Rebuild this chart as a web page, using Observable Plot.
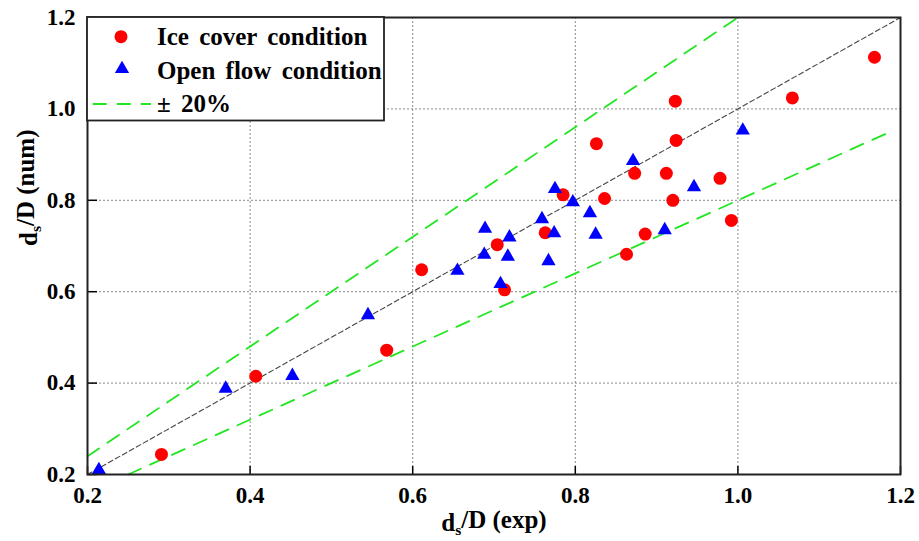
<!DOCTYPE html>
<html><head><meta charset="utf-8">
<script src="https://cdn.jsdelivr.net/npm/d3@7"></script>
<script src="https://cdn.jsdelivr.net/npm/@observablehq/plot@0.6"></script>
<style>body{margin:0;background:#fff}</style>
</head><body><div id="chart"></div>
<script>
// Ice cover condition (red circles)
const iceX = [0.291,0.407,0.568,0.611,0.704,0.713,0.763,0.785,0.826,0.836,0.863,0.886,0.873,0.912,0.920,0.978,0.923,0.924,0.992,1.067,1.168];
const iceY = [0.244,0.415,0.472,0.648,0.703,0.604,0.729,0.812,0.924,0.804,0.682,0.726,0.859,0.859,0.800,0.848,1.017,0.931,0.756,1.024,1.113];
// Open flow condition (blue triangles)
const openX = [0.214,0.370,0.452,0.545,0.655,0.689,0.688,0.719,0.717,0.708,0.759,0.775,0.774,0.767,0.797,0.818,0.825,0.871,0.946,0.910,1.006];
const openY = [0.210,0.388,0.416,0.549,0.646,0.738,0.681,0.719,0.677,0.617,0.759,0.825,0.728,0.667,0.796,0.772,0.725,0.886,0.829,0.735,0.953];
// reference lines: y = x and ±20 %
const diagX = [0.2, 1.2], diagY = [0.2, 1.2];
const upperX = [0.2, 1.0], upperY = [0.24, 1.2];
const lowerX = [0.25, 1.19], lowerY = [0.2, 0.952];
const tickValues = [0.2, 0.4, 0.6, 0.8, 1.0, 1.2];
const gridValues = [0.4, 0.6, 0.8, 1.0];
const legendLabels = ["Ice cover condition", "Open flow condition", "\u00b1 20%"];
const xTitle = "ds/D (exp)";
const yTitle = "ds/D (num)";

const ice = iceX.map((x, i) => ({x, y: iceY[i]}));
const open = openX.map((x, i) => ({x, y: openY[i]}));
const diag = diagX.map((x, i) => ({x, y: diagY[i]}));
const upper = upperX.map((x, i) => ({x, y: upperY[i]}));
const lower = lowerX.map((x, i) => ({x, y: lowerY[i]}));

const FONT = "'Liberation Serif', 'Times New Roman', serif";
const GREEN = "#22e622";

const plot = Plot.plot({
  width: 919, height: 541,
  marginLeft: 87, marginRight: 19, marginTop: 17, marginBottom: 67,
  style: {fontFamily: FONT, fontSize: "23px", fontWeight: "bold", background: "white", color: "black"},
  x: {domain: [0.2, 1.2]},
  y: {domain: [0.2, 1.2]},
  marks: [
    Plot.gridX(gridValues, {stroke: "#8a8a8a", strokeOpacity: 1, strokeDasharray: "2,2"}),
    Plot.gridY(gridValues, {stroke: "#8a8a8a", strokeOpacity: 1, strokeDasharray: "2,2"}),
    Plot.line(diag, {x: "x", y: "y", stroke: "#444", strokeWidth: 1.1, strokeDasharray: "5,3"}),
    Plot.line(upper, {x: "x", y: "y", stroke: GREEN, strokeWidth: 1.8, strokeDasharray: "14,10"}),
    Plot.line(lower, {x: "x", y: "y", stroke: GREEN, strokeWidth: 1.8, strokeDasharray: "14,10"}),
    Plot.dot(ice, {x: "x", y: "y", r: 6.5, fill: "#ff0000", symbol: "circle"}),
    Plot.dot(open, {x: "x", y: "y", r: 5.3, fill: "#0000ff", symbol: "triangle"}),
    Plot.axisX(tickValues, {tickSize: 8, dy: -8, tickFormat: () => "", label: null, strokeWidth: 1.5}),
    Plot.axisX(tickValues, {tickSize: 0, tickPadding: 12, tickFormat: d3.format(".1f"), label: null, fontSize: 23}),
    Plot.axisY(tickValues, {tickSize: 10, dx: 10, tickFormat: () => "", label: null, strokeWidth: 1.5}),
    Plot.axisY(tickValues, {tickSize: 0, tickPadding: 12, tickFormat: d3.format(".1f"), label: null, fontSize: 23}),
    Plot.text([xTitle], {frameAnchor: "bottom", dy: 56, lineAnchor: "bottom", fontSize: 25, fontWeight: "bold"}),
    Plot.text([yTitle], {frameAnchor: "left", dx: -51, rotate: -90, lineAnchor: "bottom", fontSize: 25, fontWeight: "bold"}),
    Plot.frame({stroke: "#222", strokeWidth: 2})
  ]
});
document.getElementById("chart").appendChild(plot);

const svg = d3.select(plot);
// subscripts in the axis titles
svg.selectAll("text").each(function() {
  const t = d3.select(this);
  const s = t.text();
  if (s === xTitle || s === yTitle) {
    t.text(null);
    t.append("tspan").text("d");
    t.append("tspan").attr("dy", "0.3em").attr("font-size", "0.62em").text("s");
    t.append("tspan").attr("dy", "-0.3em").text(s.slice(2));
  }
});

// legend
const lg = svg.append("g").attr("font-family", FONT).attr("font-weight", "bold")
  .attr("font-size", 25).attr("text-anchor", "start").attr("fill", "black");
lg.append("rect").attr("x", 87).attr("y", 17).attr("width", 297).attr("height", 103.5)
  .attr("fill", "white").attr("stroke", "#222").attr("stroke-width", 1.8);
lg.append("circle").attr("cx", 121).attr("cy", 36.7).attr("r", 6.5).attr("fill", "#ff0000");
lg.append("path").attr("d", d3.symbol(d3.symbolTriangle, Math.PI * 5.3 * 5.3)())
  .attr("transform", "translate(122,69)").attr("fill", "#0000ff");
lg.append("line").attr("x1", 92.7).attr("x2", 151).attr("y1", 104).attr("y2", 104)
  .attr("stroke", GREEN).attr("stroke-width", 1.8).attr("stroke-dasharray", "14,10");
const rowsY = [45, 78.5, 112];
legendLabels.forEach((l, i) => {
  lg.append("text").attr("x", 157).attr("y", rowsY[i]).attr("text-anchor", "start")
    .attr("word-spacing", "4px").text(l);
});
</script>
</body></html>
